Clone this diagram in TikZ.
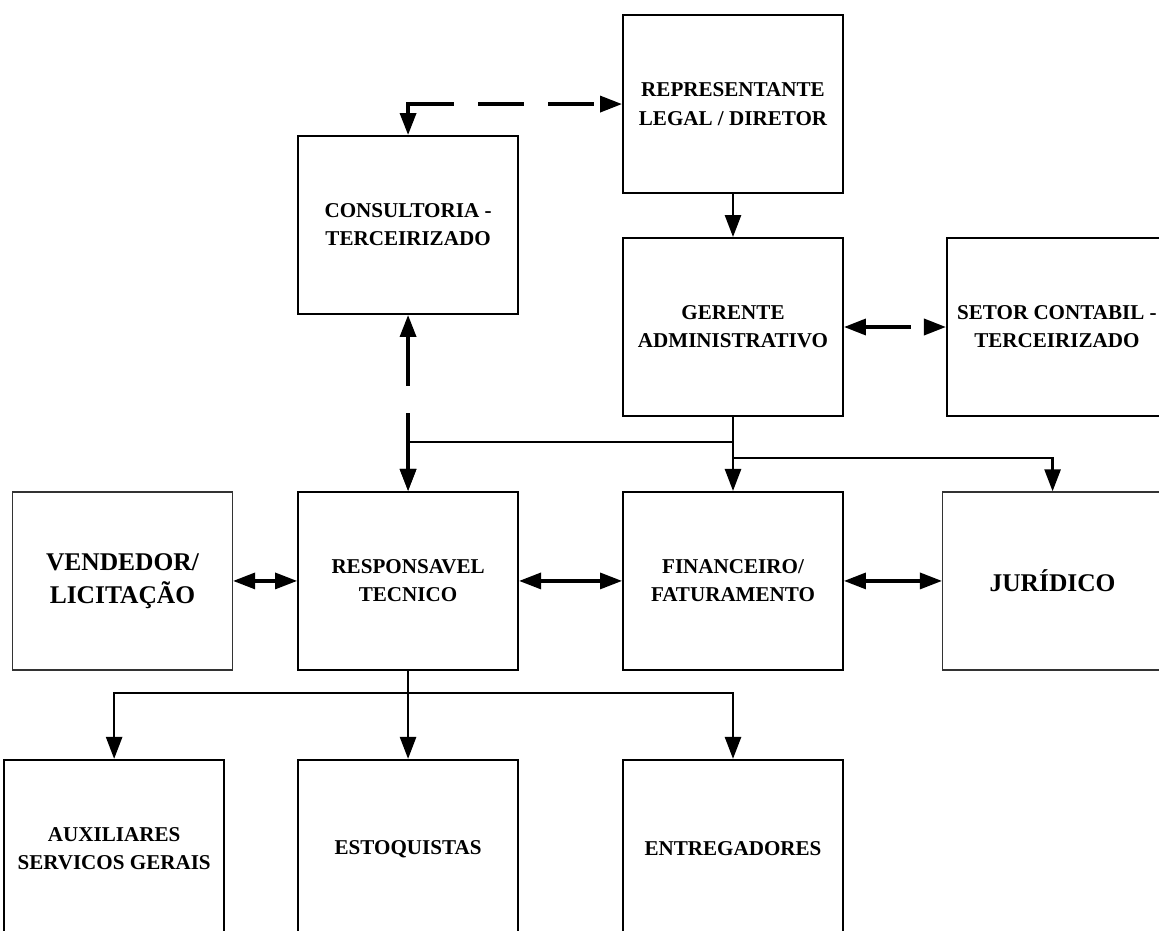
\documentclass[tikz,border=0pt]{standalone}
\usepackage{fontspec}
\setmainfont{Liberation Serif}
\usepackage{tikz}
\usetikzlibrary{positioning,arrows.meta}
\tikzset{
  unit/.style={rectangle, draw, line width=1.1pt, minimum width=4.4cm, minimum height=3.56cm, inner sep=2pt, align=center,
               font=\fontsize{12}{16}\selectfont\bfseries},
  external/.style={draw=black!80, line width=0.7pt, font=\fontsize{14.5}{18.7}\selectfont\bfseries},
  tip/.tip={Triangle[length=4.4mm, width=3.2mm]},
  link/.style={-tip, line width=1.5pt},
  twoway/.style={tip-tip, line width=1.8pt},
  dashlink/.style={tip-tip, line width=2pt, dash pattern=on 9.2mm off 4.8mm},
}

\begin{document}
\begin{tikzpicture}
  \useasboundingbox (0,0) rectangle (23.18,-18.62);
  \clip (0,0) rectangle (23.18,-18.62);

  \node[unit] (gerente) at (14.66,-6.54) {GERENTE\\ADMINISTRATIVO};
  \node[unit] (repr) [above=0.86cm of gerente] {REPRESENTANTE\\LEGAL / DIRETOR};
  \node[unit] (setor) [right=2.04cm of gerente] {SETOR CONTABIL -\\TERCEIRIZADO};
  \node[unit] (fin) [below=1.48cm of gerente] {FINANCEIRO/\\FATURAMENTO};
  \node[unit] (resp) [left=2.06cm of fin] {RESPONSAVEL\\TECNICO};
  \node[unit, external] (jur) [right=1.96cm of fin] {JURÍDICO};
  \node[unit, external] (vend) [left=1.28cm of resp] {VENDEDOR/\\LICITAÇÃO};
  \node[unit] (consult) [above=3.52cm of resp] {CONSULTORIA -\\TERCEIRIZADO};
  \node[unit] (estoq) [below=1.76cm of resp] {ESTOQUISTAS};
  \node[unit] (aux) [left=1.44cm of estoq] {AUXILIARES\\SERVICOS GERAIS};
  \node[unit] (entreg) [below=1.76cm of fin] {ENTREGADORES};

  % dashed links
  \draw[dashlink, dash pattern=on 11.2mm off 4.8mm on 9.2mm off 4.8mm on 9.2mm off 4.8mm on 20mm]
    (consult.north -| resp.north) |- (repr.west);
  \draw[dashlink] (gerente.east) -- (setor.west);
  \draw[dashlink, dash pattern=on 10mm off 5.4mm on 30mm] (consult.south -| resp.north) -- (resp.north);

  % top of the tree
  \draw[link] (repr.south) -- (gerente.north);
  \draw[link] (gerente.south) -- (fin.north);
  \draw[link] (gerente.south) ++(0,-0.5) -| (resp.north);
  \draw[link] (gerente.south) ++(0,-0.82) -| (jur.north);

  % same level
  \draw[twoway] (vend.east) -- (resp.west);
  \draw[twoway] (resp.east) -- (fin.west);
  \draw[twoway] (fin.east) -- (jur.west);

  % bottom of the tree
  \draw[link] (resp.south) -- (estoq.north);
  \draw[link] (resp.south) ++(0,-0.44) -| (aux.north);
  \draw[link] (resp.south) ++(0,-0.44) -| (entreg.north);

\end{tikzpicture}
\end{document}
